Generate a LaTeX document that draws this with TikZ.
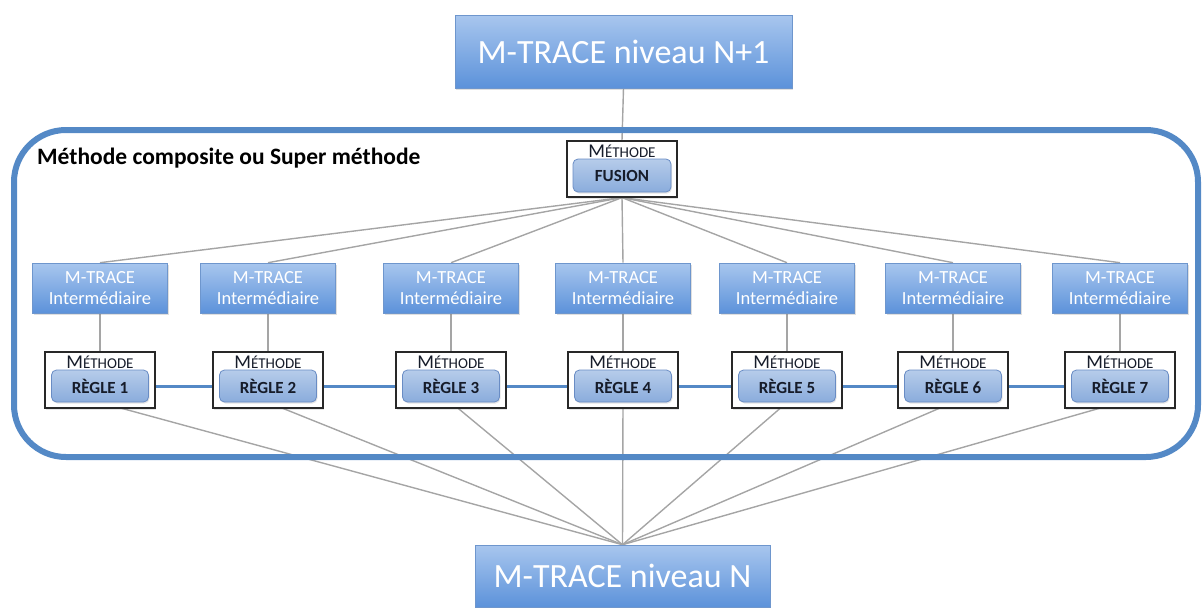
\documentclass[tikz,border=0pt]{standalone}
\usepackage{fontspec}
\setmainfont{Carlito}
\usetikzlibrary{shadows}
\pgfdeclarelayer{bg}
\pgfdeclarelayer{mid}
\pgfsetlayers{bg,mid,main}
\definecolor{bigblue}{RGB}{84,137,198}
\definecolor{boxtop}{RGB}{168,198,238}
\definecolor{boxbot}{RGB}{92,146,218}
\definecolor{boxborder}{RGB}{110,150,205}
\definecolor{ruletop}{RGB}{182,204,234}
\definecolor{rulebot}{RGB}{138,172,220}
\definecolor{ruleborder}{RGB}{105,140,196}
\definecolor{ruletext}{RGB}{22,28,42}
\definecolor{methborder}{RGB}{40,40,40}
\definecolor{linegray}{RGB}{165,165,165}
\newcommand{\methtext}{{\fontsize{19.5}{19.5}\selectfont M}{\fontsize{15}{15}\selectfont ÉTHODE}}
\begin{document}
\begin{tikzpicture}[x=1pt,y=-1pt,
  bluebox/.style={rectangle, draw=boxborder, line width=0.6, top color=boxtop, bottom color=boxbot,
    text=white, inner sep=0, align=center,
    drop shadow={opacity=0.25, shadow xshift=1pt, shadow yshift=-2pt}},
  interbox/.style={bluebox, minimum width=135, minimum height=50, font=\fontsize{18.5}{21}\selectfont},
  methbox/.style={rectangle, draw=methborder, fill=white, line width=1.2, minimum width=110, minimum height=56, inner sep=0,
    drop shadow={opacity=0.2, shadow xshift=1pt, shadow yshift=-1.5pt}},
  methlabel/.style={inner sep=0, text=ruletext},
  rulebox/.style={rectangle, rounded corners=5, draw=ruleborder, line width=0.8, top color=ruletop, bottom color=rulebot,
    minimum width=97, minimum height=32, inner sep=0, text=ruletext, font=\fontsize{17}{17}\selectfont\bfseries,
    drop shadow={opacity=0.2, shadow xshift=1pt, shadow yshift=-1.5pt}},
  grayline/.style={draw=linegray, line width=1.4},
  blueconn/.style={draw=bigblue, line width=3},
  superbox/.style={rectangle, draw=bigblue, line width=6, rounded corners=52, inner sep=0}
]
\useasboundingbox (0,0) rectangle (1203,608);

\node[bluebox, minimum width=337, minimum height=73, font=\fontsize{34}{34}\selectfont] (top) at (623.5,51.5) {M-TRACE niveau N+1};
\node[bluebox, minimum width=295, minimum height=62, font=\fontsize{34}{34}\selectfont] (bot) at (622.5,576) {M-TRACE niveau N};

\begin{pgfonlayer}{mid}
\node[superbox, minimum width=1184, minimum height=327] (super) at (606,293.5) {};
\end{pgfonlayer}

\node[anchor=west, inner sep=0, font=\bfseries\fontsize{23.5}{23.5}\selectfont] (lbl) at (37,158) {Méthode composite ou Super méthode};

\node[methbox] (fo) at (622,169) {};
\node[methlabel] (fl) at (622,151) {\methtext};
\node[rulebox, minimum width=98, minimum height=33] (fu) at (622,175.5) {FUSION};

\foreach \i/\x in {1/100, 2/268, 3/451, 4/623, 5/787, 6/953, 7/1120} {
  \node[interbox] (it\i) at (\x,288) {M-TRACE\\Intermédiaire};
  \node[methbox] (mo\i) at (\x,380) {};
  \node[methlabel] (ml\i) at (\x,362) {\methtext};
  \node[rulebox] (r\i) at (\x,386) {RÈGLE \i};
}

\begin{pgfonlayer}{bg}
\draw[grayline] (top.south) -- (fo.north);
\foreach \i in {1,...,7} {
  \draw[grayline] (fo.south) -- (it\i.north);
  \draw[grayline] (it\i.south) -- (mo\i.north);
  \draw[grayline] (bot.north) -- (r\i.south);
}
\foreach \i/\j in {1/2,2/3,3/4,4/5,5/6,6/7} {
  \draw[blueconn] (r\i.east) -- (r\j.west);
}
\end{pgfonlayer}
\end{tikzpicture}
\end{document}
